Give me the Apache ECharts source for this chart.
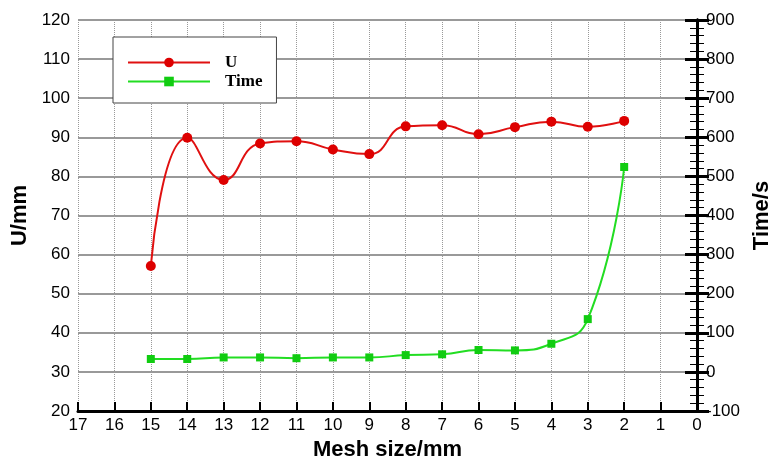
<!DOCTYPE html>
<html>
<head>
<meta charset="utf-8">
<script src="https://cdn.jsdelivr.net/npm/echarts@6/dist/echarts.min.js"></script>
<style>html,body{margin:0;padding:0;background:#fff;}#c{width:772px;height:459px;}</style>
</head>
<body>
<div id="c"></div>
<script>
var meshSizes = [15, 14, 13, 12, 11, 10, 9, 8, 7, 6, 5, 4, 3, 2];
var uValues = [57.1, 89.9, 79.1, 88.4, 89.0, 86.9, 85.7, 92.8, 93.1, 90.8, 92.6, 94.0, 92.7, 94.2];
var timeValues = [33, 33, 37, 37, 35, 37, 37, 43, 45, 56, 55, 72, 135, 524];

var uData = meshSizes.map(function (m, i) { return [m, uValues[i]]; });
var tData = meshSizes.map(function (m, i) { return [m, timeValues[i]]; });

var labelFont = { fontFamily: 'Liberation Sans, Arial, sans-serif', fontSize: 17, color: '#000' };
var nameFont = { fontFamily: 'Liberation Sans, Arial, sans-serif', fontSize: 22, fontWeight: 'bold', color: '#000' };

var gridLeft = 78, gridRight = 75, chartW = 772;
var plotW = chartW - gridLeft - gridRight;

var chart = echarts.init(document.getElementById('c'), null, { renderer: 'canvas' });
chart.setOption({
  animation: false,
  backgroundColor: '#fff',
  grid: { left: gridLeft, right: gridRight, top: 20, bottom: 48, containLabel: false, outerBoundsMode: 'none' },
  legend: {
    left: 113, top: 37,
    orient: 'vertical',
    backgroundColor: '#fff',
    borderColor: '#444', borderWidth: 1,
    padding: [16, 14, 12, 14],
    itemWidth: 82, itemHeight: 12, itemGap: 0,
    textStyle: { fontFamily: 'Liberation Serif, Times New Roman, serif', fontWeight: 'bold', fontSize: 17, lineHeight: 19, color: '#000', padding: [0, 0, 0, 10] },
    data: ['U', 'Time']
  },
  xAxis: {
    type: 'value', min: 0, max: 17, interval: 1, inverse: true,
    name: 'Mesh size/mm', nameLocation: 'middle', nameGap: 22, nameTextStyle: nameFont,
    axisLine: { onZero: false, lineStyle: { color: '#000', width: 3 } },
    axisTick: { inside: true, length: 9, lineStyle: { color: '#000', width: 2 } },
    axisLabel: Object.assign({ margin: 6 }, labelFont),
    splitLine: { show: true, lineStyle: { color: '#999', type: 'dotted', width: 1 } }
  },
  yAxis: [
    {
      type: 'value', min: 20, max: 120, interval: 10, position: 'left',
      name: 'U/mm', nameLocation: 'middle', nameGap: 45, nameTextStyle: nameFont,
      axisLine: { show: true, lineStyle: { color: '#000', width: 3 } },
      axisTick: { inside: true, length: 12, lineStyle: { color: '#000', width: 3 } },
      minorTick: { show: true, splitNumber: 5, length: 7, lineStyle: { color: '#000', width: 1 } },
      axisLabel: Object.assign({ margin: 8 }, labelFont),
      splitLine: { show: true, lineStyle: { color: '#777', width: 1.5 } }
    },
    {
      type: 'value', min: -100, max: 900, interval: 100, position: 'right',
      name: 'Time/s', nameLocation: 'middle', nameGap: 46, nameTextStyle: nameFont,
      axisLine: { show: true, lineStyle: { color: '#000', width: 3 } },
      axisTick: { show: false },
      minorTick: { show: false },
      axisLabel: Object.assign({ margin: 9 }, labelFont),
      splitLine: { show: false }
    },
    {
      type: 'value', min: -100, max: 900, interval: 100, position: 'left', offset: -plotW,
      axisLine: { show: true, lineStyle: { color: '#000', width: 3 } },
      axisTick: { show: true, inside: false, length: 12, lineStyle: { color: '#000', width: 3 } },
      minorTick: { show: true, splitNumber: 5, length: 7, lineStyle: { color: '#000', width: 1 } },
      axisLabel: { show: false },
      splitLine: { show: false }
    }
  ],
  series: [
    {
      name: 'U', type: 'line', yAxisIndex: 0, data: uData, smooth: 0.5,
      symbol: 'circle', symbolSize: 10,
      lineStyle: { color: '#e01010', width: 2 },
      itemStyle: { color: '#dd0000' }
    },
    {
      name: 'Time', type: 'line', yAxisIndex: 1, data: tData, smooth: 0.5,
      symbol: 'rect', symbolSize: 8,
      lineStyle: { color: '#22dd22', width: 2 },
      itemStyle: { color: '#11cc11' }
    }
  ]
});
</script>
</body>
</html>
